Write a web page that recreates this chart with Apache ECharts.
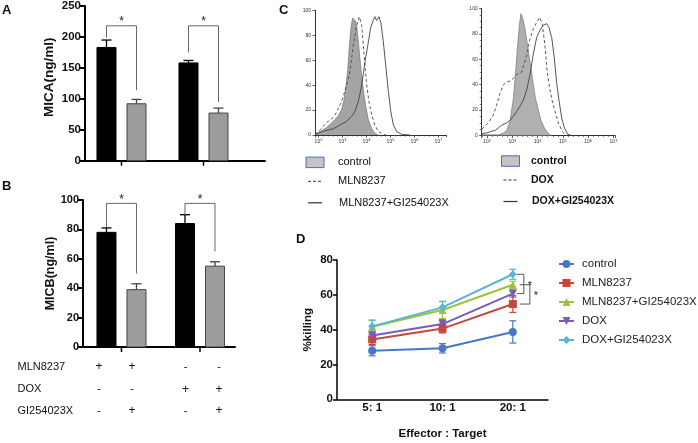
<!DOCTYPE html>
<html>
<head>
<meta charset="utf-8">
<script src="https://cdn.jsdelivr.net/npm/echarts@6/dist/echarts.min.js"></script>
<style>
html, body { margin: 0; padding: 0; background: #fff; }
#main { width: 698px; height: 443px; }
</style>
</head>
<body>
<div id="main"></div>
<script>
var FONT = '"Liberation Sans", Arial, sans-serif';

// A / B: soluble MICA and MICB, two treatment groups
var groups = ['MLN8237', 'DOX'];
var micaBlack = [183, 158];
var micaBlackErr = [12, 4];
var micaGray = [92, 77];
var micaGrayErr = [7, 8];
var micbBlack = [78, 84];
var micbBlackErr = [3, 6];
var micbGray = [39, 55];
var micbGrayErr = [4, 3];
// significance brackets: [top, left leg end, right leg end]
var micaSig = [[218, 199, 114], [218, 175, 95]];
var micbSig = [[97.7, 81.5, 50], [97.7, 90, 65]];

// treatment table under B
var tableRows = ['MLN8237', 'DOX', 'GI254023X'];
var tableSigns = [
  ['+', '+', '-', '-'],
  ['-', '-', '+', '+'],
  ['-', '+', '-', '+']
];

// C: flow histograms, x = log10(fluorescence), y = % of max
var c1Control = [[1.86,0.5],[2.06,2.7],[2.34,6],[2.62,11],[2.83,15.5],[2.97,21],[3.06,28],[3.15,40],[3.22,53.5],[3.28,70],[3.35,86],[3.42,94],[3.49,94],[3.55,91.5],[3.62,83],[3.70,67],[3.78,51],[3.87,36],[3.97,23],[4.08,12],[4.22,5],[4.35,1.3],[4.49,0]];
var c1Mln = [[1.86,0.5],[2.06,4],[2.34,10],[2.55,13],[2.69,16],[2.97,27],[3.17,40],[3.31,51],[3.45,72],[3.59,88],[3.70,95],[3.80,88],[3.87,72],[3.94,54],[4.01,40],[4.10,27],[4.22,16],[4.35,8],[4.49,3],[4.63,1],[4.80,0]];
var c1MlnGi = [[1.86,0.5],[2.20,3],[2.62,5],[2.90,8],[3.17,11],[3.38,15],[3.52,19],[3.66,27],[3.80,40],[3.94,59],[4.08,75],[4.17,86],[4.28,92],[4.35,95],[4.42,92],[4.52,95],[4.60,90],[4.70,75],[4.80,56],[4.91,35],[5.01,19],[5.12,8],[5.26,2.7],[5.47,0.5],[5.81,0]];
var c2Control = [[1.80,0.5],[2.45,0.5],[2.65,2],[2.78,4],[2.91,11],[3.04,29],[3.13,50],[3.21,71],[3.28,87],[3.34,96],[3.42,92],[3.50,84],[3.58,74],[3.66,63],[3.74,53],[3.83,40],[3.92,29],[4.03,20],[4.13,12],[4.27,6],[4.40,2],[4.53,0]];
var c2Dox = [[1.80,5],[2.05,10],[2.25,16],[2.38,24],[2.51,33],[2.65,40],[2.78,42],[2.91,43],[3.04,45],[3.17,48],[3.37,50],[3.57,63],[3.70,76],[3.83,84],[3.96,89],[4.09,93],[4.19,87],[4.29,71],[4.38,50],[4.48,37],[4.58,27],[4.69,19],[4.82,10],[4.98,3],[5.15,0]];
var c2DoxGi = [[1.80,1.5],[1.99,2],[2.18,3.4],[2.32,4],[2.45,6],[2.58,8],[2.78,10],[2.91,12],[3.04,15],[3.17,19],[3.30,23],[3.44,28],[3.57,36],[3.70,48],[3.83,64],[3.96,77],[4.09,83],[4.23,87],[4.36,88],[4.45,85],[4.56,77],[4.66,61],[4.75,42],[4.85,27],[4.95,14],[5.06,6],[5.19,1],[5.35,0]];

// D: NK killing
var ratios = ['5: 1', '10: 1', '20: 1'];
var killNames = ['control', 'MLN8237', 'MLN8237+GI254023X', 'DOX', 'DOX+GI254023X'];
var killControl = [27.9, 29.3, 38.7];
var killMln = [34.4, 40.6, 54.7];
var killMlnGi = [41.7, 51.3, 65.8];
var killDox = [36.7, 43.2, 60.7];
var killDoxGi = [41.9, 52.8, 71.8];
var errControl = [2.9, 2.7, 6.4];
var errMln = [2.9, 2.5, 4.8];
var errMlnGi = [3.8, 4.8, 2];
var errDox = [2.5, 2.5, 2];
var errDoxGi = [3.5, 3.5, 2.9];
// brackets at 20:1 between series indexes [upper, lower]
var killSig = [[4, 3], [2, 1]];

var killColors = ['#4a76c6', '#c8463c', '#9dc23e', '#7a5cb5', '#5ab5d5'];
var killSymbols = ['circle', 'rect', 'triangle', 'triangle', 'diamond'];
var killValues = [killControl, killMln, killMlnGi, killDox, killDoxGi];
var killErrs = [errControl, errMln, errMlnGi, errDox, errDoxGi];

var chart = echarts.init(document.getElementById('main'), null, { renderer: 'canvas' });

function barRender(offset, fill, stroke) {
  return function (params, api) {
    var x = api.value(0);
    var base = api.coord([x, 0]);
    var top = api.coord([x, api.value(1)]);
    var cap = api.coord([x, api.value(1) + api.value(2)]);
    var cx = base[0] + offset;
    return {
      type: 'group',
      children: [
        { type: 'line', shape: { x1: cx, y1: top[1], x2: cx, y2: cap[1] }, style: { stroke: stroke, lineWidth: 1.3 } },
        { type: 'line', shape: { x1: cx - 5, y1: cap[1], x2: cx + 5, y2: cap[1] }, style: { stroke: stroke, lineWidth: 1.3 } },
        { type: 'rect', shape: { x: cx - 9.5, y: top[1], width: 19, height: base[1] - top[1] }, style: { fill: fill, stroke: stroke, lineWidth: 1 } }
      ]
    };
  };
}

function groupTickRender(params, api) {
  var p = api.coord([api.value(0), 0]);
  return { type: 'line', shape: { x1: p[0], y1: p[1], x2: p[0], y2: p[1] + 5 }, style: { stroke: '#000', lineWidth: 1.5 } };
}

function bracketRender(params, api) {
  var x = api.value(0);
  var top = api.coord([x, api.value(1)]);
  var l = api.coord([x, api.value(2)]);
  var r = api.coord([x, api.value(3)]);
  var cx = top[0];
  return {
    type: 'group',
    children: [
      { type: 'polyline', shape: { points: [[cx - 15, l[1]], [cx - 15, top[1]], [cx + 15, top[1]], [cx + 15, r[1]]] },
        style: { stroke: '#666', fill: null, lineWidth: 1 } },
      { type: 'text', style: { text: '*', x: cx, y: top[1] - 4, align: 'center', verticalAlign: 'middle',
        font: '12px ' + FONT, fill: '#222' } }
    ]
  };
}

function errRender(color) {
  return function (params, api) {
    var lo = api.coord([api.value(0), api.value(1) - api.value(2)]);
    var hi = api.coord([api.value(0), api.value(1) + api.value(2)]);
    var x = lo[0];
    return {
      type: 'group',
      children: [
        { type: 'line', shape: { x1: x, y1: lo[1], x2: x, y2: hi[1] }, style: { stroke: color, lineWidth: 1.2 } },
        { type: 'line', shape: { x1: x - 3.5, y1: lo[1], x2: x + 3.5, y2: lo[1] }, style: { stroke: color, lineWidth: 1.2 } },
        { type: 'line', shape: { x1: x - 3.5, y1: hi[1], x2: x + 3.5, y2: hi[1] }, style: { stroke: color, lineWidth: 1.2 } }
      ]
    };
  };
}

function killBracketRender(params, api) {
  var i = params.dataIndex;
  var top = api.coord([2, api.value(1)]);
  var bot = api.coord([2, api.value(2)]);
  var x0 = top[0] + (i === 0 ? 4 : 7);
  var x1 = top[0] + (i === 0 ? 11 : 17);
  return {
    type: 'group',
    children: [
      { type: 'polyline', shape: { points: [[x0, top[1]], [x1, top[1]], [x1, bot[1]], [x0, bot[1]]] },
        style: { stroke: '#555', fill: null, lineWidth: 1 } },
      { type: 'text', style: { text: '*', x: x1 + 4, y: (top[1] + bot[1]) / 2 + 2, align: 'left', verticalAlign: 'middle',
        font: '11px ' + FONT, fill: '#222' } }
    ]
  };
}

function pair(vals, errs) {
  return vals.map(function (v, i) { return [i, v, errs[i]]; });
}

function sigData(sig) {
  return sig.map(function (s, i) { return [i, s[0], s[1], s[2]]; });
}

function barAxisX(idx, min, max) {
  return {
    gridIndex: idx, type: 'value', min: min, max: max,
    axisLine: { onZero: false, lineStyle: { color: '#000', width: 2 } },
    axisTick: { show: false }, axisLabel: { show: false }, splitLine: { show: false }
  };
}

function barAxisY(idx, max, interval, name, nameSize, nameGap, labelSize, pad) {
  return {
    gridIndex: idx, type: 'value', min: 0, max: max, interval: interval,
    name: name, nameLocation: 'middle', nameGap: nameGap,
    nameTextStyle: { fontWeight: 'bold', fontSize: nameSize, color: '#111', fontFamily: FONT, padding: pad },
    axisLine: { show: true, onZero: false, lineStyle: { color: '#000', width: 2 } },
    axisTick: { show: true, length: 5, lineStyle: { color: '#000', width: 2 } },
    axisLabel: { fontWeight: 'bold', fontSize: labelSize, color: '#111', margin: 4, fontFamily: FONT },
    splitLine: { show: false }
  };
}

function facsAxisX(idx, min, max) {
  return {
    gridIndex: idx, type: 'value', min: min, max: max,
    axisLine: { onZero: false, lineStyle: { color: '#333', width: 1 } },
    axisTick: { show: true, length: 2.5, lineStyle: { color: '#333', width: 0.8 } },
    minorTick: { show: true, splitNumber: 5, length: 1.5, lineStyle: { color: '#333', width: 0.6 } },
    axisLabel: {
      margin: 3, color: '#333',
      formatter: function (v) {
        if (Math.abs(v - Math.round(v)) > 1e-6) return '';
        return '{a|10}{b|' + Math.round(v) + '}';
      },
      rich: { a: { fontSize: 5, fontFamily: FONT, color: '#333' }, b: { fontSize: 4, fontFamily: FONT, color: '#333', padding: [0, 0, 3, 0] } }
    },
    splitLine: { show: false }
  };
}

function facsAxisY(idx, minor) {
  return {
    gridIndex: idx, type: 'value', min: 0, max: 100, interval: 20,
    axisLine: { show: true, onZero: false, lineStyle: { color: '#333', width: 1 } },
    axisTick: { show: true, length: 2.5, lineStyle: { color: '#333', width: 0.8 } },
    minorTick: { show: minor, splitNumber: 4, length: 2, lineStyle: { color: '#333', width: 0.6 } },
    axisLabel: { fontSize: 5, color: '#333', margin: 4, fontFamily: FONT },
    splitLine: { show: false }
  };
}

function facsLine(idx, name, data, dashed) {
  return {
    type: 'line', name: name, xAxisIndex: idx, yAxisIndex: idx, data: data,
    symbol: 'none', silent: true, z: 3,
    lineStyle: { color: '#444', width: 0.9, type: dashed ? [3, 2.5] : 'solid' }
  };
}

function facsFill(idx, name, data, color) {
  return {
    type: 'line', name: name, xAxisIndex: idx, yAxisIndex: idx, data: data,
    symbol: 'none', silent: true, z: 2,
    lineStyle: { color: '#666', width: 0.6 },
    areaStyle: { color: color, opacity: 1 }
  };
}

var series = [
  { type: 'custom', name: 'mica-black', xAxisIndex: 0, yAxisIndex: 0, clip: false, renderItem: barRender(-15, '#000', '#000'), data: pair(micaBlack, micaBlackErr) },
  { type: 'custom', name: 'mica-gray', xAxisIndex: 0, yAxisIndex: 0, clip: false, renderItem: barRender(15, '#9c9c9c', '#444'), data: pair(micaGray, micaGrayErr) },
  { type: 'custom', name: 'mica-ticks', xAxisIndex: 0, yAxisIndex: 0, clip: false, renderItem: groupTickRender, data: groups.map(function (g, i) { return [i, 0]; }) },
  { type: 'custom', name: 'mica-sig', xAxisIndex: 0, yAxisIndex: 0, clip: false, renderItem: bracketRender, data: sigData(micaSig) },
  { type: 'custom', name: 'micb-black', xAxisIndex: 1, yAxisIndex: 1, clip: false, renderItem: barRender(-15, '#000', '#000'), data: pair(micbBlack, micbBlackErr) },
  { type: 'custom', name: 'micb-gray', xAxisIndex: 1, yAxisIndex: 1, clip: false, renderItem: barRender(15, '#9c9c9c', '#444'), data: pair(micbGray, micbGrayErr) },
  { type: 'custom', name: 'micb-ticks', xAxisIndex: 1, yAxisIndex: 1, clip: false, renderItem: groupTickRender, data: groups.map(function (g, i) { return [i, 0]; }) },
  { type: 'custom', name: 'micb-sig', xAxisIndex: 1, yAxisIndex: 1, clip: false, renderItem: bracketRender, data: sigData(micbSig) },
  facsFill(2, 'c1-control', c1Control, '#a4a4a4'),
  facsLine(2, 'c1-mln', c1Mln, true),
  facsLine(2, 'c1-mlngi', c1MlnGi, false),
  facsFill(3, 'c2-control', c2Control, '#b0b0b0'),
  facsLine(3, 'c2-dox', c2Dox, true),
  facsLine(3, 'c2-doxgi', c2DoxGi, false)
];

killNames.forEach(function (name, k) {
  series.push({
    type: 'custom', name: 'err-' + k, xAxisIndex: 4, yAxisIndex: 4, clip: false, z: 2,
    renderItem: errRender(killColors[k]), data: pair(killValues[k], killErrs[k])
  });
});
killNames.forEach(function (name, k) {
  series.push({
    type: 'line', name: name, xAxisIndex: 4, yAxisIndex: 4, data: killValues[k], z: 3,
    symbol: killSymbols[k], symbolSize: 8, symbolRotate: k === 3 ? 180 : 0,
    color: killColors[k], lineStyle: { color: killColors[k], width: 2 }, itemStyle: { color: killColors[k] }
  });
});
series.push({
  type: 'custom', name: 'kill-sig', xAxisIndex: 4, yAxisIndex: 4, clip: false,
  renderItem: killBracketRender,
  data: killSig.map(function (s, i) { return [2, killValues[s[0]][2], killValues[s[1]][2]]; })
});

var graphic = [];
function label(text, x, y, size, weight, align) {
  graphic.push({
    type: 'text', x: x, y: y, silent: true,
    style: { text: text, font: (weight || 'normal') + ' ' + size + 'px ' + FONT, fill: '#111',
      align: align || 'left', verticalAlign: 'middle' }
  });
}
label('A', 2, 10.5, 13, 'bold');
label('B', 2, 186, 13, 'bold');
label('C', 279, 10, 13, 'bold');
label('D', 296, 239, 13, 'bold');

var tableY = [366.7, 389.3, 410.5];
var tableX = [99, 132, 185.5, 219];
tableRows.forEach(function (r, i) {
  label(r, 17.5, tableY[i], 11, 'normal');
  tableSigns[i].forEach(function (s, j) {
    label(s, tableX[j], tableY[i], s === '+' ? 12 : 11, 'normal', 'center');
  });
});

function facsLegend(x, y, names, weight, size, tx) {
  graphic.push({ type: 'rect', silent: true, shape: { x: x, y: y - 5.2, width: 18, height: 10.5 },
    style: { fill: '#c4c4c4', stroke: '#4a6fc0', lineWidth: 1 } });
  graphic.push({ type: 'line', silent: true, shape: { x1: x + 2, y1: y + 19, x2: x + 16, y2: y + 19 },
    style: { stroke: '#333', lineWidth: 1, lineDash: [3, 2] } });
  graphic.push({ type: 'line', silent: true, shape: { x1: x + 2, y1: y + 40.5, x2: x + 16, y2: y + 40.5 },
    style: { stroke: '#333', lineWidth: 1.2 } });
  label(names[0], tx, y, size, weight);
  label(names[1], tx, y + 19, size, weight);
  label(names[2], tx + 1, y + 40.5, size, weight);
}
facsLegend(306, 162.3, ['control', 'MLN8237', 'MLN8237+GI254023X'], 'normal', 11, 338);
facsLegend(501.5, 161, ['control', 'DOX', 'DOX+GI254023X'], 'bold', 10.5, 531);

var option = {
  animation: false,
  textStyle: { fontFamily: FONT },
  grid: [
    { left: 85, top: 5.3, width: 180, height: 155.4 },
    { left: 83, top: 200, width: 152, height: 147 },
    { left: 315, top: 10.5, width: 131.5, height: 124.5 },
    { left: 481.7, top: 8.5, width: 133.3, height: 127 },
    { left: 337, top: 260, width: 211, height: 139.3 }
  ],
  xAxis: [
    barAxisX(0, -0.445, 1.75),
    barAxisX(1, -0.49, 1.446),
    facsAxisX(2, 1.854, 7.333),
    facsAxisX(3, 1.79, 7.06),
    {
      gridIndex: 4, type: 'category', data: ratios, boundaryGap: true,
      name: 'Effector : Target', nameLocation: 'middle', nameGap: 29,
      nameTextStyle: { fontWeight: 'bold', fontSize: 11.5, color: '#111', fontFamily: FONT },
      axisLine: { lineStyle: { color: '#000', width: 1.5 } },
      axisTick: { alignWithLabel: true, length: 4, lineStyle: { color: '#000', width: 1.5 } },
      axisLabel: { fontWeight: 'bold', fontSize: 11.5, color: '#111', margin: 3, fontFamily: FONT },
      splitLine: { show: false }
    }
  ],
  yAxis: [
    barAxisY(0, 250, 50, 'MICA(ng/ml)', 13.5, 29, 11.5, [0, 0, 0, 12]),
    barAxisY(1, 100, 20, 'MICB(ng/ml)', 12.5, 26, 11, 0),
    facsAxisY(2, false),
    facsAxisY(3, true),
    {
      gridIndex: 4, type: 'value', min: 0, max: 80, interval: 20,
      name: '%killing', nameLocation: 'middle', nameGap: 23,
      nameTextStyle: { fontWeight: 'bold', fontSize: 11.5, color: '#111', fontFamily: FONT },
      axisLine: { show: true, onZero: false, lineStyle: { color: '#000', width: 1.5 } },
      axisTick: { show: true, length: 4, lineStyle: { color: '#000', width: 1.5 } },
      axisLabel: { fontWeight: 'bold', fontSize: 11.5, color: '#111', margin: 4, fontFamily: FONT },
      splitLine: { show: false }
    }
  ],
  legend: {
    data: killNames, orient: 'vertical', left: 558, top: 258, padding: 0,
    itemWidth: 15, itemHeight: 10, itemGap: 7,
    textStyle: { fontSize: 11.5, color: '#222', fontFamily: FONT, padding: [0, 0, 0, 3] }
  },
  graphic: graphic,
  series: series
};

chart.setOption(option);
</script>
</body>
</html>
